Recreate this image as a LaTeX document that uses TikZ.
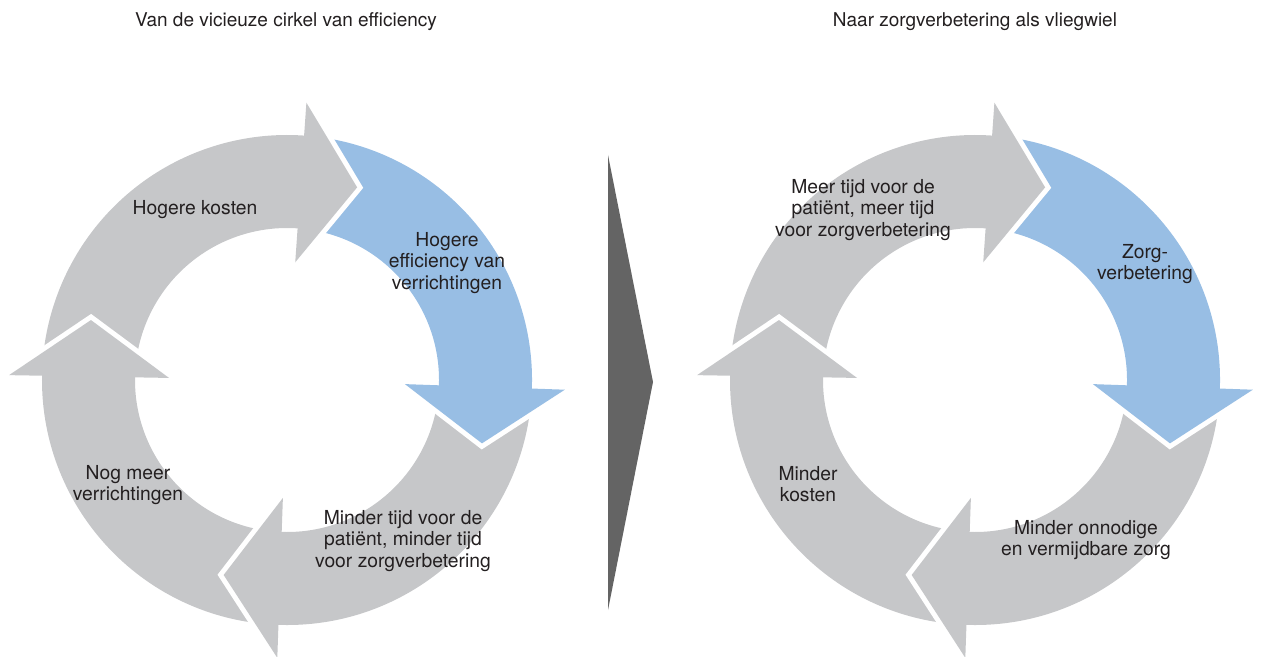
\documentclass[tikz,border=0pt]{standalone}
\usepackage{fontspec}
\setmainfont{TeX Gyre Heros}
\usetikzlibrary{positioning}
\definecolor{ringgrey}{HTML}{C6C7C9}
\definecolor{ringblue}{HTML}{98BEE4}
\definecolor{chevgrey}{HTML}{646464}
\definecolor{txt}{HTML}{231F20}

\begin{document}
\begin{tikzpicture}[x=1pt,y=1pt,
	lbl/.style={align=center, text=txt, font=\fontsize{19.3}{21.5}\selectfont},
	ttl/.style={text=txt, font=\fontsize{19}{22}\selectfont}]
		\useasboundingbox (0,0) rectangle (1265,656);
		\def\Ro{245}\def\Ri{152}\def\Ho{278}\def\Hi{118}\def\Rt{205}
		
		\foreach \cx in {287,975}{
			\begin{scope}[shift={(\cx,276)}]
				\foreach \s/\e/\c in {178/85/ringgrey, 85/-3/ringblue, -3/-93/ringgrey, -93/-182/ringgrey}
				\fill[\c] (\s:\Ro) arc[start angle=\s, end angle=\e, radius=\Ro] -- (\e:\Ri) arc[start angle=\e, end angle=\s, radius=\Ri] -- cycle;
				\foreach \b/\c in {86/ringgrey, -2/ringblue, -92/ringgrey, 179/ringgrey}{
					\draw[white, line width=10] (\b:\Ho) -- ({\b-16}:\Rt) -- (\b:\Hi);
					\fill[\c] (\b:\Ho) -- ({\b-16}:\Rt) -- (\b:\Hi) -- cycle;
				}
			\end{scope}
		}
		
		\fill[chevgrey] (608,501) -- (653,274) -- (608,46) -- cycle;
		
		\node[ttl] (lefttitle) at (286,634) {Van de vicieuze cirkel van efficiency};
		\node[ttl] (righttitle) at (975,634) {Naar zorgverbetering als vliegwiel};
		
		\node[lbl] (kosten) at (195,446) {Hogere kosten};
		\node[lbl] (efficiency) at (447,393) {Hogere\\efficiency van\\verrichtingen};
		\node[lbl] (nogmeer) at (128,171) {Nog meer\\verrichtingen};
		\node[lbl] (mindertijd) at (403,115) {Minder tijd voor de\\patiënt, minder tijd\\voor zorgverbetering};
		
		\node[lbl] (meertijd) at (863,446) {Meer tijd voor de\\patiënt, meer tijd\\voor zorgverbetering};
		\node[lbl] (zorg) at (1145,392) {Zorg-\\verbetering};
		\node[lbl] (minderkosten) at (808,172) {Minder\\kosten};
		\node[lbl] (onnodig) at (1086,116) {Minder onnodige\\en vermijdbare zorg};
\end{tikzpicture}
\end{document}
